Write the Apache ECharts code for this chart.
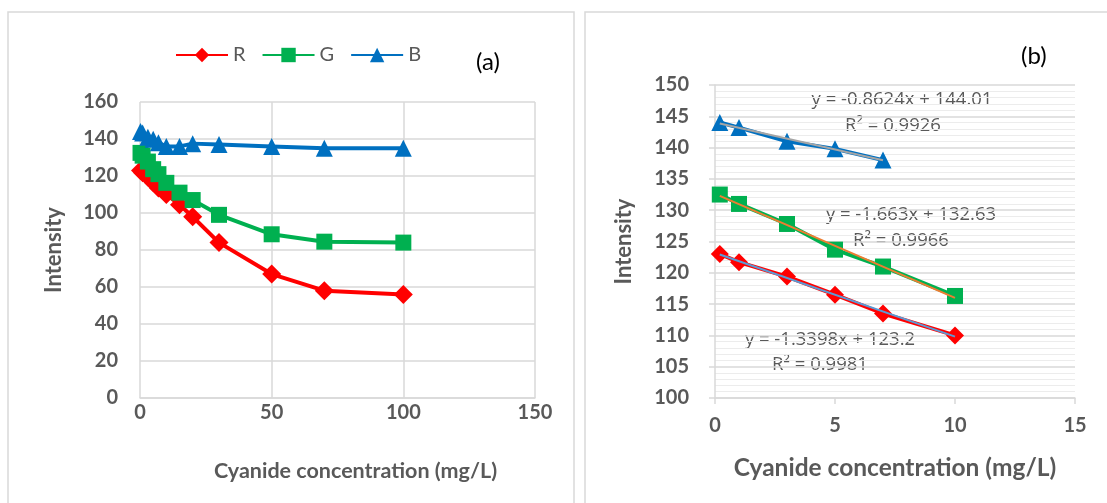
<!DOCTYPE html>
<html><head><meta charset="utf-8">
<script src="https://cdn.jsdelivr.net/npm/echarts@6/dist/echarts.min.js"></script>
<style>html,body{margin:0;padding:0;background:#fff}#c{width:1107px;height:503px}</style>
</head><body><div id="c"></div>
<script>
// ---- data (panel a) ----
const concA = [0.2, 1, 3, 5, 7, 10, 15, 20, 30, 50, 70, 100];
const rA = [123, 121.7, 119.4, 116.5, 113.5, 110, 104.5, 98, 84, 67, 58, 56];
const gA = [132.5, 131, 127.8, 123.7, 121, 116.3, 111, 107, 99, 88.5, 84.5, 84];
const bA = [144, 143.2, 141, 139.8, 138, 136, 136, 137.5, 137, 136, 135, 135];
// ---- data (panel b) ----
const concRG = [0.2, 1, 3, 5, 7, 10];
const rB = [123, 121.7, 119.4, 116.5, 113.5, 110];
const gB = [132.5, 131, 127.8, 123.7, 121, 116.3];
const concBlue = [0.2, 1, 3, 5, 7];
const bB = [144, 143.2, 141, 139.8, 138];
// trend lines (as printed on the chart)
const slopes = [-1.3398, -1.663, -0.8624];
const intercepts = [123.2, 132.63, 144.01];
const trendRanges = [[0.2, 10], [0.2, 10], [0.2, 7]];
const eqTexts = ['y = -1.3398x + 123.2', 'y = -1.663x + 132.63', 'y = -0.8624x + 144.01'];
const r2Texts = ['R² = 0.9981', 'R² = 0.9966', 'R² = 0.9926'];
const seriesNames = ['R', 'G', 'B'];

const RED = '#ff0000', GREEN = '#00b050', BLUE = '#0070c0';
const TXT = '#595959', GRID = '#d9d9d9';
const FONT = 'Lato, "Open Sans", sans-serif';
const EQFONT = '"Open Sans", Lato, sans-serif';

const zip = (xs, ys) => xs.map((x, i) => [x, ys[i]]);
const trend = k => trendRanges[k].map(x => [x, slopes[k] * x + intercepts[k]]);

const chart = echarts.init(document.getElementById('c'));
const lineSeries = (name, data, color, symbol, size, xi) => ({
  name, type: 'line', data, xAxisIndex: xi, yAxisIndex: xi,
  symbol, symbolSize: size, lineStyle: { color, width: 4 },
  itemStyle: { color }, color, z: 3, animation: false
});
const trendSeries = (k, color) => ({
  type: 'line', data: trend(k), xAxisIndex: 1, yAxisIndex: 1, symbol: 'none',
  lineStyle: { color, width: 2 }, z: 4, animation: false, silent: true
});
const eq = (x, y, text) => ({ type: 'text', x, y, style: { text, fill: TXT, fontSize: 18.5, fontFamily: EQFONT, align: 'center', verticalAlign: 'middle' } });

chart.setOption({
  animation: false,
  textStyle: { fontFamily: FONT },
  grid: [
    { left: 140, top: 102, width: 395, height: 296 },
    { left: 715, top: 85, width: 360, height: 313 }
  ],
  legend: {
    data: ['R', 'G', 'B'], left: 170, top: 40, itemWidth: 52, itemHeight: 18, itemGap: 16,
    textStyle: { color: TXT, fontSize: 20, fontFamily: FONT }
  },
  xAxis: [
    { gridIndex: 0, type: 'value', min: 0, max: 150, interval: 50,
      axisLine: { show: true, lineStyle: { color: GRID, width: 1.5 } }, axisTick: { show: false },
      splitLine: { show: true, lineStyle: { color: GRID, width: 1.5 } },
      axisLabel: { color: TXT, fontSize: 20, fontWeight: 'bold', margin: 5, fontFamily: FONT },
      name: 'Cyanide concentration (mg/L)', nameLocation: 'middle', nameGap: 62,
      nameTextStyle: { color: TXT, fontSize: 21.5, fontWeight: 'bold', fontFamily: FONT, padding: [0, 0, 0, 36] } },
    { gridIndex: 1, type: 'value', min: 0, max: 15, interval: 5,
      axisLine: { show: true, lineStyle: { color: GRID, width: 1.5 } },
      axisTick: { show: true, length: 6, lineStyle: { color: GRID, width: 1.5 } },
      splitLine: { show: false },
      axisLabel: { color: TXT, fontSize: 20, fontWeight: 'bold', margin: 18, fontFamily: FONT },
      name: 'Cyanide concentration (mg/L)', nameLocation: 'middle', nameGap: 58,
      nameTextStyle: { color: TXT, fontSize: 24.5, fontWeight: 'bold', fontFamily: FONT } }
  ],
  yAxis: [
    { gridIndex: 0, type: 'value', min: 0, max: 160, interval: 20,
      axisLine: { show: false }, axisTick: { show: false },
      splitLine: { show: true, lineStyle: { color: GRID, width: 1.5 } },
      axisLabel: { color: TXT, fontSize: 20, fontWeight: 'bold', margin: 22, fontFamily: FONT },
      name: 'Intensity', nameLocation: 'middle', nameGap: 75, nameRotate: 90,
      nameTextStyle: { color: TXT, fontSize: 22, fontWeight: 'bold', fontFamily: FONT } },
    { gridIndex: 1, type: 'value', min: 100, max: 150, interval: 5,
      axisLine: { show: true, lineStyle: { color: GRID, width: 1.5 } },
      axisTick: { show: true, length: 6, lineStyle: { color: GRID, width: 1.5 } },
      splitLine: { show: true, lineStyle: { color: GRID, width: 1.5 } },
      minorTick: { show: false, splitNumber: 5 },
      minorSplitLine: { show: true, lineStyle: { color: '#ececec', width: 1 } },
      axisLabel: { color: TXT, fontSize: 20, fontWeight: 'bold', margin: 26, fontFamily: FONT },
      name: 'Intensity', nameLocation: 'middle', nameGap: 80, nameRotate: 90,
      nameTextStyle: { color: TXT, fontSize: 22, fontWeight: 'bold', fontFamily: FONT } }
  ],
  series: [
    lineSeries('R', zip(concA, rA), RED, 'diamond', 19, 0),
    lineSeries('G', zip(concA, gA), GREEN, 'rect', 16, 0),
    lineSeries('B', zip(concA, bA), BLUE, 'triangle', 17, 0),
    lineSeries('R', zip(concRG, rB), RED, 'diamond', 18, 1),
    lineSeries('G', zip(concRG, gB), GREEN, 'rect', 16, 1),
    lineSeries('B', zip(concBlue, bB), BLUE, 'triangle', 17, 1),
    trendSeries(0, '#5b9bd5'),
    trendSeries(1, '#ed7d31'),
    trendSeries(2, '#a5a5a5')
  ],
  graphic: [
    { type: 'rect', shape: { x: 8, y: 12, width: 566, height: 520 }, style: { fill: 'none', stroke: GRID, lineWidth: 1.5 }, silent: true, z: -1 },
    { type: 'rect', shape: { x: 585, y: 12, width: 560, height: 520 }, style: { fill: 'none', stroke: GRID, lineWidth: 1.5 }, silent: true, z: -1 },
    { type: 'text', left: 476, top: 50, style: { text: '(a)', fill: '#000', fontSize: 24, fontFamily: FONT } },
    { type: 'text', left: 1021, top: 44, style: { text: '(b)', fill: '#000', fontSize: 24, fontFamily: FONT } },
    eq(902, 100, eqTexts[2]),
    eq(893, 126, r2Texts[2]),
    eq(911, 215, eqTexts[1]),
    eq(901, 241, r2Texts[1]),
    eq(830, 340, eqTexts[0]),
    eq(820, 365, r2Texts[0])
  ]
});
</script>
</body></html>
